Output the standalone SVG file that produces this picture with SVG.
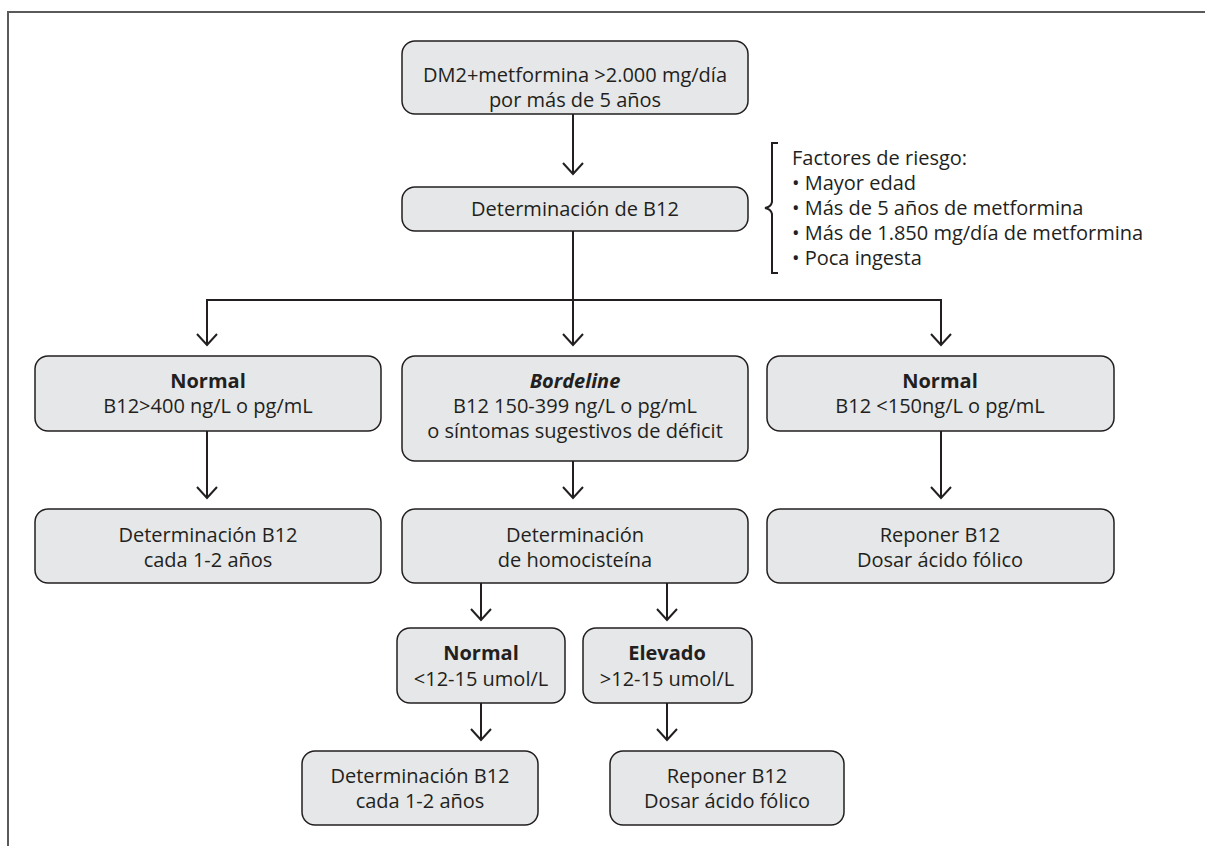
<svg xmlns="http://www.w3.org/2000/svg" width="1205" height="846" viewBox="0 0 1205 846">
<style>
.box{fill:#e6e7e8;stroke:#231f20;stroke-width:1.5}
.t{font-family:"Open Sans","Liberation Sans",sans-serif;font-size:20px;fill:#231f20;text-anchor:middle}
.b{font-weight:bold}
.bi{font-weight:bold;font-style:italic}
.l{font-family:"Open Sans","Liberation Sans",sans-serif;font-size:20px;fill:#231f20}
.c{fill:none;stroke:#231f20;stroke-width:2}
</style>
<defs>
<marker id="ah" markerUnits="userSpaceOnUse" orient="auto" refX="0" refY="0" markerWidth="30" markerHeight="30" overflow="visible">
<path d="M-11,-10 L0,0 L-11,10" fill="none" stroke="#231f20" stroke-width="2"/>
</marker>
</defs>
<rect width="1205" height="846" fill="#ffffff"/>
<path d="M8,846 V12 H1205" fill="none" stroke="#5a5a5a" stroke-width="2"/>

<g id="connectors">
<path class="c" d="M573,114 V174" marker-end="url(#ah)"/>
<path class="c" d="M573,231 V300"/>
<path class="c" d="M207,300 H941"/>
<path class="c" d="M207,299 V345" marker-end="url(#ah)"/>
<path class="c" d="M573,300 V345" marker-end="url(#ah)"/>
<path class="c" d="M941,299 V345" marker-end="url(#ah)"/>
<path class="c" d="M207,431 V498" marker-end="url(#ah)"/>
<path class="c" d="M573,461 V498" marker-end="url(#ah)"/>
<path class="c" d="M941,431 V498" marker-end="url(#ah)"/>
<path class="c" d="M481,583 V620" marker-end="url(#ah)"/>
<path class="c" d="M667,583 V620" marker-end="url(#ah)"/>
<path class="c" d="M481,703 V740" marker-end="url(#ah)"/>
<path class="c" d="M667,703 V740" marker-end="url(#ah)"/>
</g>

<g id="n-start">
<rect class="box" x="402" y="41" width="346" height="73" rx="13"/>
<text class="t" x="575" y="82">DM2+metformina &gt;2.000 mg/día</text>
<text class="t" x="575" y="107">por más de 5 años</text>
</g>

<g id="n-detb12">
<rect class="box" x="402" y="187" width="346" height="44" rx="13"/>
<text class="t" x="575" y="216">Determinación de B12</text>
</g>

<g id="n-factores">
<path d="M778,143 H772 V202 Q771,207 765,208 Q771,209 772,214 V273 H778" fill="none" stroke="#231f20" stroke-width="2"/>
<text class="l" x="792" y="165">Factores de riesgo:</text>
<text class="l" x="792" y="190">• Mayor edad</text>
<text class="l" x="792" y="215">• Más de 5 años de metformina</text>
<text class="l" x="792" y="240">• Más de 1.850 mg/día de metformina</text>
<text class="l" x="792" y="265">• Poca ingesta</text>
</g>

<g id="n-normal1">
<rect class="box" x="35" y="356" width="346" height="75" rx="13"/>
<text class="t b" x="208" y="388">Normal</text>
<text class="t" x="208" y="413">B12&gt;400 ng/L o pg/mL</text>
</g>

<g id="n-bordeline">
<rect class="box" x="402" y="356" width="346" height="105" rx="13"/>
<text class="t bi" x="575" y="388">Bordeline</text>
<text class="t" x="575" y="413">B12 150-399 ng/L o pg/mL</text>
<text class="t" x="575" y="438">o síntomas sugestivos de déficit</text>
</g>

<g id="n-normal2">
<rect class="box" x="767" y="356" width="347" height="75" rx="13"/>
<text class="t b" x="940" y="388">Normal</text>
<text class="t" x="940" y="413">B12 &lt;150ng/L o pg/mL</text>
</g>

<g id="n-det1">
<rect class="box" x="35" y="509" width="346" height="74" rx="13"/>
<text class="t" x="208" y="542">Determinación B12</text>
<text class="t" x="208" y="567">cada 1-2 años</text>
</g>

<g id="n-homo">
<rect class="box" x="402" y="509" width="346" height="74" rx="13"/>
<text class="t" x="575" y="542">Determinación</text>
<text class="t" x="575" y="567">de homocisteína</text>
</g>

<g id="n-reponer1">
<rect class="box" x="767" y="509" width="347" height="74" rx="13"/>
<text class="t" x="940" y="542">Reponer B12</text>
<text class="t" x="940" y="567">Dosar ácido fólico</text>
</g>

<g id="n-hnormal">
<rect class="box" x="397" y="628" width="168" height="75" rx="13"/>
<text class="t b" x="481" y="660">Normal</text>
<text class="t" x="481" y="686">&lt;12-15 umol/L</text>
</g>

<g id="n-helevado">
<rect class="box" x="583" y="628" width="169" height="75" rx="13"/>
<text class="t b" x="667" y="660">Elevado</text>
<text class="t" x="667" y="686">&gt;12-15 umol/L</text>
</g>

<g id="n-det2">
<rect class="box" x="302" y="751" width="236" height="74" rx="13"/>
<text class="t" x="420" y="783">Determinación B12</text>
<text class="t" x="420" y="808">cada 1-2 años</text>
</g>

<g id="n-reponer2">
<rect class="box" x="610" y="751" width="234" height="74" rx="13"/>
<text class="t" x="727" y="783">Reponer B12</text>
<text class="t" x="727" y="808">Dosar ácido fólico</text>
</g>
</svg>
